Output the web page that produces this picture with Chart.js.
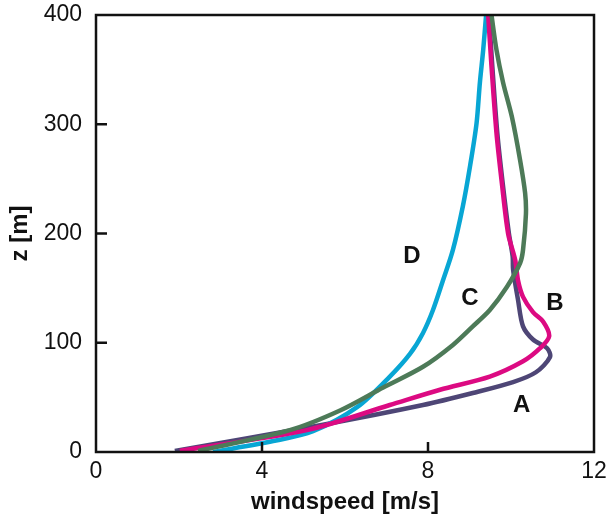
<!DOCTYPE html>
<html>
<head>
<meta charset="utf-8">
<script src="https://cdn.jsdelivr.net/npm/chart.js@4/dist/chart.umd.min.js"></script>
<style>
  html, body { margin: 0; padding: 0; background: #fff; }
  #wrap { width: 607px; height: 518px; }
</style>
</head>
<body>
<div id="wrap"><canvas id="profile"></canvas></div>
<script>
// wind profiles: windspeed [m/s] vs height z [m]
const zA = [1, 25, 43, 54, 64, 73, 87, 95, 103, 115, 139, 167, 179, 200, 246, 292, 353, 400];
const speedA = [1.9, 5.47, 7.88, 9.08, 10.05, 10.6, 10.94, 10.87, 10.53, 10.29, 10.17, 10.05, 10.04, 9.95, 9.8, 9.67, 9.55, 9.47];

const zB = [1, 20, 43, 57, 69, 83, 95, 106, 119, 128, 142, 157, 176, 200, 246, 292, 353, 400];
const speedB = [2.02, 5.08, 7.08, 8.29, 9.49, 10.29, 10.7, 10.92, 10.78, 10.53, 10.29, 10.17, 10.1, 9.93, 9.78, 9.65, 9.53, 9.45];

const zC = [1, 20, 38, 59, 78, 98, 115, 130, 151, 173, 185, 218, 237, 267, 307, 338, 368, 400];
const speedC = [2.46, 4.67, 5.88, 6.92, 7.88, 8.6, 9.08, 9.49, 9.9, 10.22, 10.29, 10.36, 10.34, 10.22, 10.02, 9.81, 9.65, 9.53];

const zD = [0, 10, 19, 41, 69, 90, 109, 130, 157, 185, 225, 261, 301, 338, 368, 400];
const speedD = [2.82, 4.27, 5.23, 6.29, 7.08, 7.57, 7.88, 8.12, 8.36, 8.6, 8.84, 9.01, 9.17, 9.25, 9.33, 9.4];

const xTicks = [0, 4, 8, 12];
const yTicks = [0, 100, 200, 300, 400];

// curve names and where they sit (data units)
const curveLabels = ["A", "B", "C", "D"];
const labelSpeed = [10.26, 11.06, 9.01, 7.61];
const labelZ = [43, 136, 141, 179];

const FONT = "'Liberation Sans', Arial, sans-serif";

const toPoints = (xs, zs) => xs.map((v, i) => ({ x: v, y: zs[i] }));

const frame = {
  id: "frame",
  afterDraw(chart) {
    const { ctx, chartArea: a, scales } = chart;
    ctx.save();
    ctx.strokeStyle = "#111";
    ctx.lineWidth = 2.5;
    ctx.strokeRect(a.left, a.top, a.right - a.left, a.bottom - a.top);
    // inward ticks
    ctx.beginPath();
    xTicks.slice(1, -1).forEach(v => {
      const px = scales.x.getPixelForValue(v);
      ctx.moveTo(px, a.bottom);
      ctx.lineTo(px, a.bottom - 10);
    });
    yTicks.slice(1, -1).forEach(v => {
      const py = scales.y.getPixelForValue(v);
      ctx.moveTo(a.left, py);
      ctx.lineTo(a.left + 11, py);
    });
    ctx.stroke();
    // curve letters
    ctx.fillStyle = "#111";
    ctx.font = "bold 24px " + FONT;
    ctx.textAlign = "center";
    ctx.textBaseline = "middle";
    curveLabels.forEach((t, i) => {
      ctx.fillText(t, scales.x.getPixelForValue(labelSpeed[i]), scales.y.getPixelForValue(labelZ[i]));
    });
    ctx.restore();
  }
};

const line = (label, data, color, order) => ({
  label, data, order,
  showLine: true,
  borderColor: color,
  borderWidth: 4.5,
  pointRadius: 0,
  tension: 0.3,
  fill: false,
  borderCapStyle: "butt"
});

new Chart(document.getElementById("profile"), {
  type: "scatter",
  data: {
    datasets: [
      line("A", toPoints(speedA, zA), "#4e4676", 4),
      line("B", toPoints(speedB, zB), "#dc0a82", 2),
      line("C", toPoints(speedC, zC), "#4d7a58", 1),
      line("D", toPoints(speedD, zD), "#08a6d4", 3)
    ]
  },
  options: {
    responsive: true,
    maintainAspectRatio: false,
    animation: false,
    layout: { padding: { top: 15, right: 13, left: 0, bottom: 0 } },
    plugins: { legend: { display: false }, tooltip: { enabled: false } },
    scales: {
      x: {
        type: "linear",
        min: 0, max: 12,
        afterBuildTicks: s => { s.ticks = xTicks.map(v => ({ value: v })); },
        afterFit: s => { s.height = 66; s.paddingLeft = 0; s.paddingRight = 0; },
        grid: { display: false, drawTicks: false },
        border: { display: false },
        ticks: {
          padding: 6,
          color: "#111",
          font: { family: FONT, size: 23 }
        },
        title: {
          display: true,
          text: "windspeed [m/s]",
          color: "#111",
          padding: { top: 0, bottom: 1 },
          font: { family: FONT, size: 24, weight: "bold" }
        }
      },
      y: {
        type: "linear",
        min: 0, max: 400,
        afterBuildTicks: s => { s.ticks = yTicks.map(v => ({ value: v })); },
        afterFit: s => { s.width = 96; s.paddingTop = 0; s.paddingBottom = 0; },
        grid: { display: false, drawTicks: false },
        border: { display: false },
        ticks: {
          padding: 14,
          color: "#111",
          font: { family: FONT, size: 23 }
        },
        title: {
          display: true,
          text: "z [m]",
          color: "#111",
          padding: { top: 6, bottom: 0 },
          font: { family: FONT, size: 24, weight: "bold" }
        }
      }
    }
  },
  plugins: [frame]
});
</script>
</body>
</html>
